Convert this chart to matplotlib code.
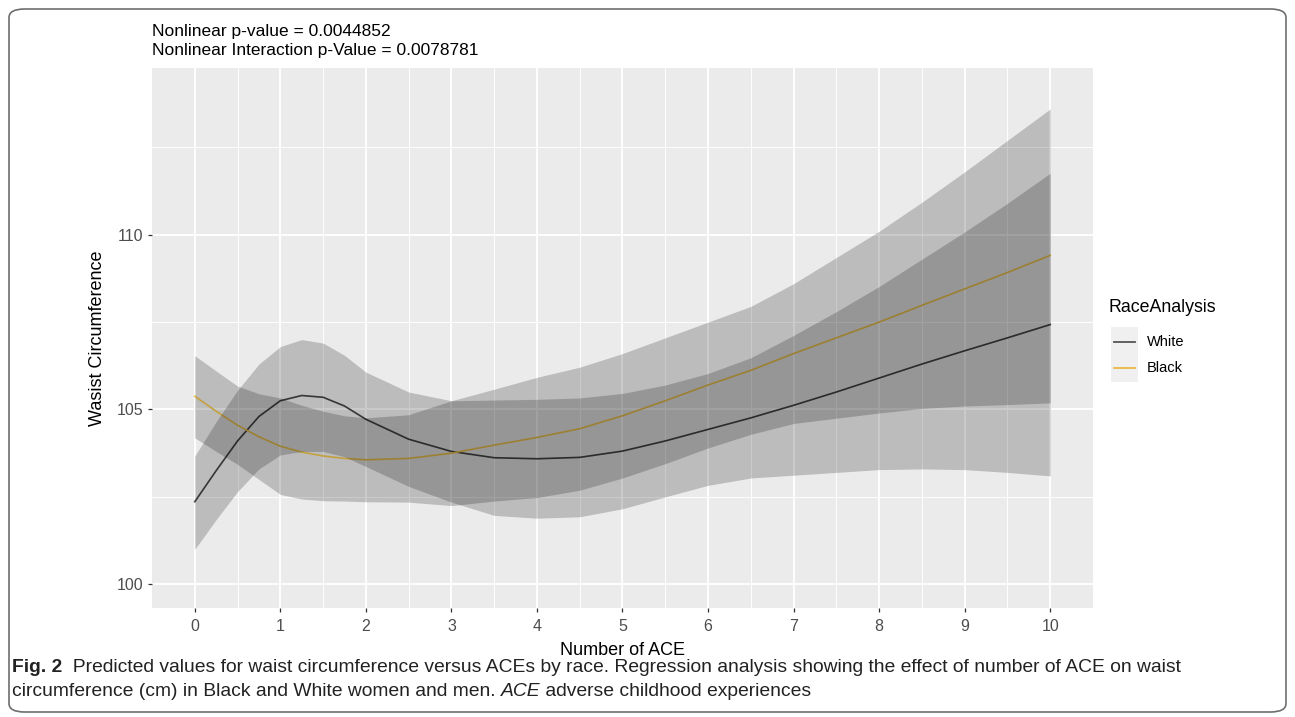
import matplotlib
matplotlib.use("Agg")
import matplotlib.pyplot as plt
from matplotlib.patches import FancyBboxPatch

# values
ace = [0, 0.25, 0.5, 0.75, 1, 1.25, 1.5, 1.75, 2, 2.5, 3, 3.5, 4, 4.5,
       5, 5.5, 6, 6.5, 7, 7.5, 8, 8.5, 9, 9.5, 10]

white_fit = [102.36, 103.25, 104.10, 104.80, 105.25, 105.40, 105.35, 105.10, 104.72,
             104.15, 103.80, 103.62, 103.59, 103.63, 103.81, 104.10, 104.43, 104.76,
             105.12, 105.50, 105.90, 106.30, 106.68, 107.05, 107.43]
white_lo = [101.00, 101.85, 102.65, 103.30, 103.70, 103.80, 103.80, 103.65, 103.37,
            102.80, 102.35, 101.97, 101.89, 101.93, 102.16, 102.50, 102.83, 103.04,
            103.12, 103.20, 103.28, 103.30, 103.28, 103.20, 103.10]
white_hi = [103.67, 104.65, 105.55, 106.30, 106.80, 107.00, 106.90, 106.55, 106.07,
            105.50, 105.25, 105.27, 105.29, 105.33, 105.46, 105.70, 106.03, 106.48,
            107.12, 107.80, 108.52, 109.30, 110.08, 110.90, 111.76]

black_fit = [105.38, 104.95, 104.55, 104.22, 103.95, 103.78, 103.67, 103.60, 103.56,
             103.60, 103.75, 103.98, 104.20, 104.45, 104.82, 105.25, 105.70, 106.12,
             106.60, 107.05, 107.50, 107.98, 108.45, 108.92, 109.41]
black_lo = [104.19, 103.80, 103.43, 103.00, 102.57, 102.44, 102.39, 102.38, 102.36,
            102.35, 102.25, 102.38, 102.48, 102.69, 103.04, 103.45, 103.90, 104.29,
            104.60, 104.75, 104.90, 105.03, 105.10, 105.14, 105.19]
black_hi = [106.54, 106.10, 105.67, 105.45, 105.33, 105.12, 104.95, 104.82, 104.76,
            104.85, 105.25, 105.58, 105.92, 106.21, 106.60, 107.05, 107.50, 107.95,
            108.60, 109.35, 110.10, 110.93, 111.80, 112.70, 113.60]

groups = ["White", "Black"]
line_colors = ["#444444", "#F5C84F"]
key_colors = ["#555555", "#EDB845"]
x_ticks = list(range(0, 11))
y_ticks = [100, 105, 110]

title_lines = ["Nonlinear p-value = 0.0044852",
               "Nonlinear Interaction p-Value = 0.0078781"]

W, H = 1295, 717
FONT = ["Liberation Sans", "DejaVu Sans"]

fig = plt.figure(figsize=(W / 100, H / 100), dpi=100)

def fx(px):
    return px / W

def fy(py):
    return 1 - py / H

# outer rounded frame
frame = FancyBboxPatch((fx(9), fy(712)), fx(1286 - 9), (712 - 9) / H,
                       boxstyle="round,pad=0,rounding_size=0.012",
                       transform=fig.transFigure, facecolor="none",
                       edgecolor="#6e6e6e", linewidth=1.2)
fig.add_artist(frame)

pl, pr, pt, pb = 152, 1093, 68, 608
ax = fig.add_axes([fx(pl), fy(pb), fx(pr - pl), (pb - pt) / H])
ax.set_facecolor("#EBEBEB")
for s in ax.spines.values():
    s.set_visible(False)

ax.set_xlim(-0.5, 10.5)
ax.set_ylim(99.32, 110 + (235 - pt) / 35)
ax.set_xticks(x_ticks)
ax.set_xticks([v + 0.5 for v in x_ticks[:-1]], minor=True)
ax.set_yticks(y_ticks)
ax.set_yticks([102.5, 107.5, 112.5], minor=True)
ax.set_axisbelow(True)
ax.grid(which="major", color="white", linewidth=1.3)
ax.grid(which="minor", color="white", linewidth=0.65)
ax.tick_params(which="major", length=3, width=0.9, color="#333333",
               labelcolor="#4D4D4D", labelsize=11.5, pad=3)
ax.tick_params(axis="x", which="major", pad=5)
ax.tick_params(which="minor", length=0)
for lab in ax.get_xticklabels() + ax.get_yticklabels():
    lab.set_family(FONT)

fits = [white_fit, black_fit]
los = [white_lo, black_lo]
his = [white_hi, black_hi]
for i in range(2):
    ax.plot(ace, fits[i], color=line_colors[i], linewidth=1.2, zorder=2)
for i in range(2):
    ax.fill_between(ace, los[i], his[i], color="black", alpha=0.2,
                    linewidth=0, zorder=3)

ax.set_xlabel("Number of ACE", fontsize=13, family=FONT, labelpad=6)
ax.set_ylabel("Wasist Circumference", fontsize=13, family=FONT, labelpad=8)

# two line title
fig.text(fx(152), fy(31.5), title_lines[0], fontsize=12.5, family=FONT,
         ha="left", va="center")
fig.text(fx(152), fy(50), title_lines[1], fontsize=12.5, family=FONT,
         ha="left", va="center")

# legend
fig.text(fx(1109), fy(308), "RaceAnalysis", fontsize=12.8, family=FONT,
         ha="left", va="center")
kax = fig.add_axes([fx(1111), fy(382), fx(27), 55 / H])
kax.set_xlim(0, 1)
kax.set_ylim(0, 2)
kax.set_facecolor("#F0F0F0")
kax.set_xticks([])
kax.set_yticks([])
for s in kax.spines.values():
    s.set_visible(False)
kax.plot([0.1, 0.9], [1.45, 1.45], color=key_colors[0], linewidth=1.3)
kax.plot([0.1, 0.9], [0.5, 0.5], color=key_colors[1], linewidth=1.3)
fig.text(fx(1147), fy(342), groups[0], fontsize=10.5, family=FONT,
         ha="left", va="center")
fig.text(fx(1147), fy(368), groups[1], fontsize=10.5, family=FONT,
         ha="left", va="center")

# caption with mixed bold / italic runs
renderer = fig.canvas.get_renderer()

def runs(x0, ypx, parts, size):
    x = x0
    for txt, wt, st in parts:
        t = fig.text(fx(x), fy(ypx), txt, fontsize=size, fontweight=wt,
                     fontstyle=st, family=FONT, ha="left", va="center",
                     color="#222222")
        x += t.get_window_extent(renderer=renderer).width

cap_size = 13.9
runs(12, 667, [("Fig. 2", "bold", "normal"),
               ("  Predicted values for waist circumference versus ACEs by race. "
                "Regression analysis showing the effect of number of ACE on waist",
                "normal", "normal")], cap_size)
runs(12, 691, [("circumference (cm) in Black and White women and men. ", "normal", "normal"),
               ("ACE", "normal", "italic"),
               (" adverse childhood experiences", "normal", "normal")], cap_size)

fig.savefig("out.png", dpi=100)
